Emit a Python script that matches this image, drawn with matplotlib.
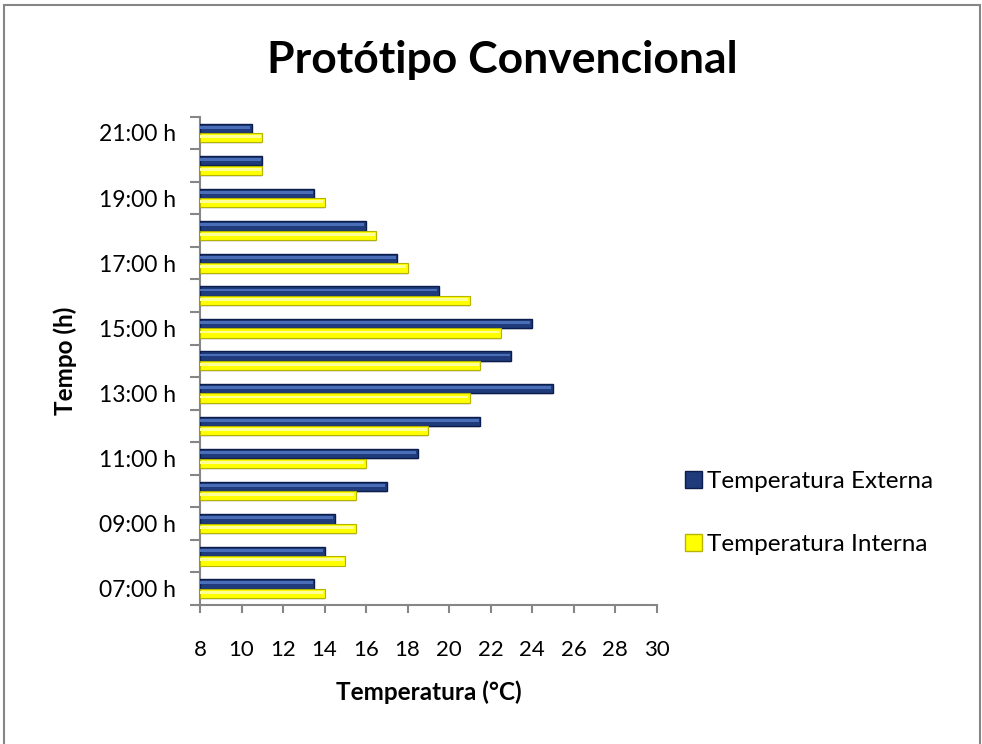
import matplotlib
matplotlib.use("Agg")
import matplotlib.pyplot as plt
from matplotlib.patches import Patch, Rectangle

# ---- data ----
hours = ["07:00 h", "08:00 h", "09:00 h", "10:00 h", "11:00 h", "12:00 h", "13:00 h",
         "14:00 h", "15:00 h", "16:00 h", "17:00 h", "18:00 h", "19:00 h", "20:00 h", "21:00 h"]
temp_externa = [13.5, 14, 14.5, 17, 18.5, 21.5, 25, 23, 24, 19.5, 17.5, 16, 13.5, 11, 10.5]
temp_interna = [14, 15, 15.5, 15.5, 16, 19, 21, 21.5, 22.5, 21, 18, 16.5, 14, 11, 11]
xticks = [8, 10, 12, 14, 16, 18, 20, 22, 24, 26, 28, 30]
series_names = ["Temperatura Externa", "Temperatura Interna"]

plt.rcParams['font.family'] = ['Lato', 'DejaVu Sans']

fig = plt.figure(figsize=(9.82, 7.44), dpi=100)
fig.patch.set_facecolor("white")
ax = fig.add_axes([200/982, 1-605/744, 456.7/982, (605-116.7)/744])

# frame around chart
fig.patches.append(Rectangle((4/982, -0.02), 976/982, 1.02-5/744, transform=fig.transFigure,
                             fill=False, edgecolor="#868686", linewidth=1.5))

pos = list(range(len(hours)))
h = 0.285
off = 0.145
base = 8
ext_y = [p + off for p in pos]
int_y = [p - off for p in pos]
ext_w = [v - base for v in temp_externa]
int_w = [v - base for v in temp_interna]

# shadows
ax.barh([y - 0.06 for y in ext_y], ext_w, height=h, left=base, color="#000000", alpha=0.10,
        linewidth=0, zorder=1)
ax.barh([y - 0.06 for y in int_y], int_w, height=h, left=base, color="#000000", alpha=0.10,
        linewidth=0, zorder=1)
# main bars
ax.barh(ext_y, ext_w, height=h, left=base, color="#1F3B7B", edgecolor="#0B1D4D",
        linewidth=1.0, zorder=3)
ax.barh(int_y, int_w, height=h, left=base, color="#FFFF00", edgecolor="#B5B500",
        linewidth=0.8, zorder=3)
# highlights
ax.barh([y + h*0.12 for y in ext_y], [w - 0.1 for w in ext_w], height=h*0.3, left=base + 0.02,
        color="#4A6DB8", linewidth=0, zorder=4)
ax.barh([y + h*0.12 for y in int_y], [w - 0.1 for w in int_w], height=h*0.3, left=base + 0.02,
        color="#FFFF99", linewidth=0, zorder=4)

ax.set_xlim(8, 30)
ax.set_ylim(-0.5, len(hours) - 0.5)
ax.set_xticks(xticks)
ax.set_xticklabels([str(t) for t in xticks], fontsize=16)

ax.set_yticks([p - 0.5 for p in pos] + [len(hours) - 0.5])
ax.set_yticklabels([])
ax.set_yticks(pos, minor=True)
ax.set_yticklabels([lab if i % 2 == 0 else "" for i, lab in enumerate(hours)], minor=True, fontsize=16.5)

for s in ["top", "right"]:
    ax.spines[s].set_visible(False)
for s in ["left", "bottom"]:
    ax.spines[s].set_color("#868686")
    ax.spines[s].set_linewidth(1.5)
ax.tick_params(axis="y", which="major", length=7, width=1.5, color="#868686", direction="out")
ax.tick_params(axis="y", which="minor", length=0, pad=17)
ax.tick_params(axis="x", which="major", length=6, width=1.5, color="#868686", direction="out", pad=19)

ax.set_xlabel("Temperatura (°C)", fontsize=17.5, fontweight="bold", labelpad=15)
ax.set_ylabel("Tempo (h)", fontsize=17.5, fontweight="bold", labelpad=16)

fig.text(502/982, 1-60/744, "Protótipo Convencional", ha="center", va="center",
         fontsize=32, fontweight="bold")

handles = [Patch(facecolor="#1F3B7B", edgecolor="#0B1D4D"),
           Patch(facecolor="#FFFF00", edgecolor="#B5B500")]
fig.legend(handles, series_names, loc="center left", bbox_to_anchor=(663/982, 1-513/744),
           frameon=False, fontsize=17.5, labelspacing=1.75, handlelength=0.7, handleheight=0.7,
           handletextpad=0.2)

fig.savefig("out.png", dpi=100, facecolor="white")
